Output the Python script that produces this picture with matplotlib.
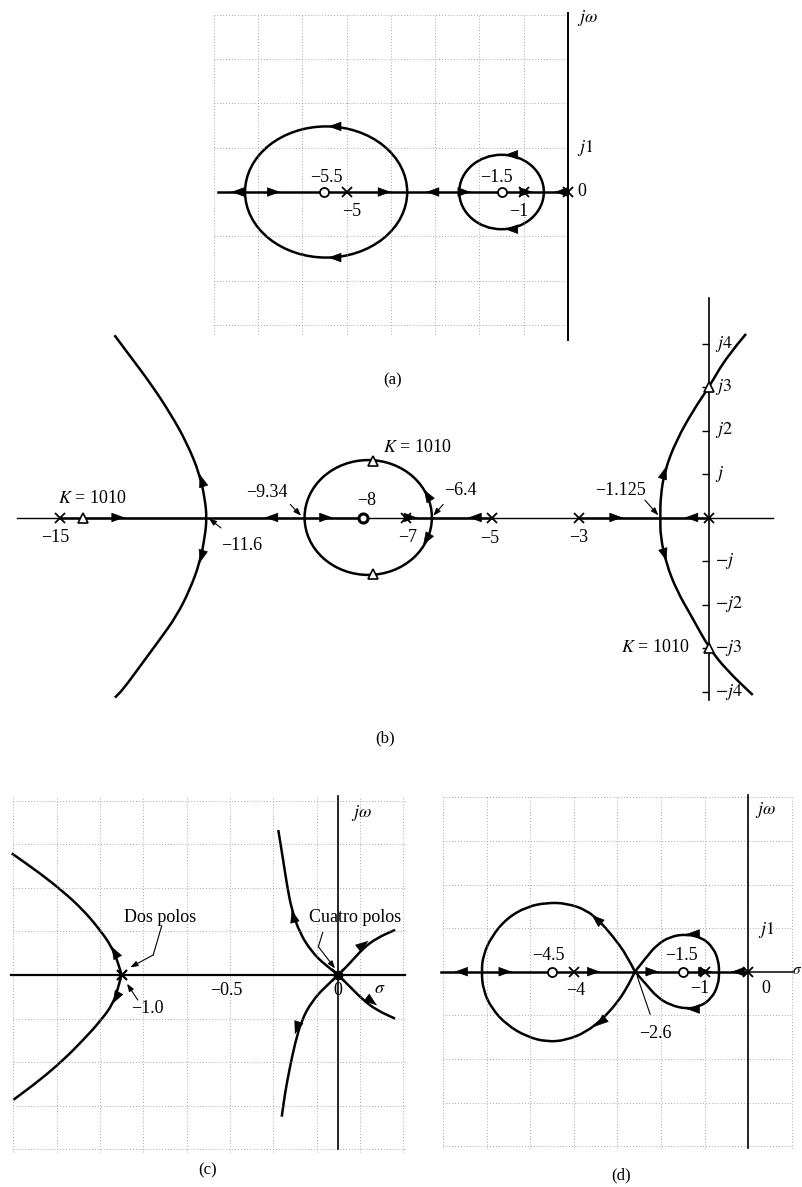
import numpy as np
import matplotlib
matplotlib.use("Agg")
import matplotlib.pyplot as plt
from matplotlib.patches import Ellipse, PathPatch
from matplotlib.path import Path

plt.rcParams['font.family'] = ['Liberation Serif', 'DejaVu Serif']
plt.rcParams['mathtext.fontset'] = 'stix'

M = '\u2212'

# ---- (a) ----
a_poles = [0, -1, -5]
a_zeros = [-1.5, -5.5]
a_circ_cx = [-5.46, -1.5]
a_circ_rx = [1.83, 0.955]
a_circ_ry = [1.48, 0.84]
a_arrow_x = [-7.6, -6.5, -4.0, -3.2, -2.2, -0.8, -0.3]
a_arrow_dir = [-1, 1, 1, -1, 1, 1, -1]
a_circ_arrow_x = [-5.41, -5.41, -1.42, -1.42]
a_circ_arrow_y = [1.48, -1.48, 0.84, -0.84]

# ---- (b) ----
b_poles = [0, -3, -5, -7, -15]
b_zero = [-8]
b_k_sigma = [-14.45, -7.75, -7.75, 0, 0]
b_k_omega = [0, 1.31, -1.31, 3, -3]
b_circ = (-7.87, 1.47, 1.32)
b_left_s = [-13.73, -13.37, -12.91, -12.45, -12.06, -11.76, -11.64, -11.6,
            -11.64, -11.76, -11.99, -12.30, -12.68, -13.14, -13.53, -13.72]
b_left_w = [4.19, 3.71, 3.10, 2.41, 1.72, 0.99, 0.41, 0,
            -0.43, -1.04, -1.66, -2.27, -2.80, -3.42, -3.95, -4.14]
b_right_s = [0.855, 0.41, 0, -0.36, -0.75, -1.02, -1.12, -1.125,
             -1.12, -0.99, -0.75, -0.40, 0, 0.41, 1.01]
b_right_w = [4.22, 3.70, 3.0, 2.47, 1.78, 1.09, 0.48, 0,
             -0.44, -1.05, -1.67, -2.28, -3.0, -3.51, -4.08]
b_omega_ticks = [4, 3, 2, 1, -1, -2, -3, -4]
b_omega_labels = ['$j4$', '$j3$', '$j2$', '$j$', '$-j$', '$-j2$', '$-j3$', '$-j4$']
b_arrow_x = [-13.5, -11.76, -11.76, -10.25, -8.7, -6.75, -5.55, -6.58, -6.6,
             -2.0, -0.55, -0.99, -0.98]
b_arrow_y = [0, 0.99, -1.04, 0, 0, 0, 0, 0.64, -0.63, 0, 0, 1.17, -1.0]
b_arrow_dx = [1, -0.42, -0.35, -1, 1, 1, -1, -0.7, -0.7, 1, -1, 0.39, 0.38]
b_arrow_dy = [0, 1.31, -1.23, 0, 0, 0, 0, 1.16, -1.16, 0, 0, 1.3, -1.23]

# ---- (c) ----
c_left_up_s = [-1.0, -1.015, -1.046, -1.10, -1.177, -1.269, -1.377, -1.507]
c_left_up_w = [0, 0.054, 0.13, 0.207, 0.298, 0.382, 0.467, 0.558]
c_left_dn_s = [-1.0, -1.015, -1.038, -1.10, -1.177, -1.269, -1.377, -1.50]
c_left_dn_w = [0, -0.054, -0.13, -0.214, -0.298, -0.39, -0.482, -0.573]
c_ul_s = [0, -0.061, -0.123, -0.177, -0.215, -0.238, -0.257, -0.277]
c_ul_w = [0, 0.046, 0.107, 0.191, 0.298, 0.42, 0.543, 0.665]
c_dl_s = [0, -0.061, -0.123, -0.169, -0.2, -0.226, -0.246, -0.261]
c_dl_w = [0, -0.054, -0.123, -0.207, -0.314, -0.436, -0.543, -0.65]
c_ur_s = [0, 0.054, 0.115, 0.177, 0.262]
c_ur_w = [0, 0.054, 0.123, 0.169, 0.207]
c_dr_s = [0, 0.054, 0.115, 0.177, 0.262]
c_dr_w = [0, -0.054, -0.115, -0.161, -0.2]
c_arrow_x = [-1.046, -1.04, -0.215, -0.2, 0.138, 0.177]
c_arrow_y = [0.13, -0.13, 0.298, -0.27, 0.156, -0.138]
c_arrow_dx = [-0.085, -0.085, -0.061, -0.04, 0.062, 0.062]
c_arrow_dy = [0.153, -0.153, 0.229, -0.12, 0.046, -0.046]

# ---- (d) ----
d_poles = [0, -1, -4]
d_zeros = [-1.5, -4.5]
d_big_s = [-2.6, -2.79, -3.10, -3.40, -3.71, -4.17, -4.62, -5.08, -5.54, -5.89,
           -6.08, -6.12, -6.08, -5.89, -5.54, -5.08, -4.62, -4.17, -3.71, -3.33,
           -3.02, -2.79, -2.6]
d_big_w = [0, 0.383, 0.803, 1.147, 1.415, 1.569, 1.583, 1.49, 1.225, 0.803,
           0.383, 0, -0.42, -0.84, -1.22, -1.49, -1.61, -1.57, -1.38, -1.07,
           -0.725, -0.38, 0]
d_small_s = [-2.6, -2.33, -2.10, -1.80, -1.41, -1.03, -0.80, -0.69, -0.665,
             -0.69, -0.84, -1.11, -1.41, -1.80, -2.10, -2.33, -2.6]
d_small_w = [0, 0.344, 0.612, 0.803, 0.865, 0.766, 0.537, 0.268, 0,
             -0.305, -0.61, -0.80, -0.856, -0.764, -0.573, -0.305, 0]
d_arrow_x = [-6.73, -5.43, -3.40, -2.06, -0.85, -0.38, -3.59, -3.50, -1.41, -1.41]
d_arrow_y = [0, 0, 0, 0, 0, 0, 1.30, -1.25, 0.865, -0.856]
d_arrow_dx = [-1, 1, 1, 1, 1, -1, -0.31, -0.38, -1, -1]
d_arrow_dy = [0, 0, 0, 0, 0, 0, 0.27, -0.31, 0, 0]

W, H = 803, 1187
fig = plt.figure(figsize=(W / 100, H / 100), dpi=100)

LW = 1.8
FS = 13
GRID = dict(color='0.55', lw=0.6, ls=(0, (1, 2.5)))


def panel(ox, oy, sx, sy, xlim, ylim):
    # ox, oy: pixel position of the s-plane origin, sx, sy: pixels per unit
    left = ox + xlim[0] * sx
    right = ox + xlim[1] * sx
    top = oy - ylim[1] * sy
    bottom = oy - ylim[0] * sy
    ax = fig.add_axes([left / W, 1 - bottom / H, (right - left) / W, (bottom - top) / H])
    ax.set_xlim(xlim)
    ax.set_ylim(ylim)
    ax.axis('off')
    return ax


def branch(ax, xs, ys):
    # smooth branch through the read points (quadratic segments)
    pts = np.column_stack([xs, ys])
    verts = [pts[0]]
    codes = [Path.MOVETO]
    for i in range(1, len(pts) - 1):
        verts += [pts[i], (pts[i] + pts[i + 1]) / 2]
        codes += [Path.CURVE3, Path.CURVE3]
    verts.append(pts[-1])
    codes.append(Path.LINETO)
    ax.add_patch(PathPatch(Path(verts, codes), fill=False, ec='k', lw=LW,
                           joinstyle='round'))


def arrows(ax, xs, ys, dxs, dys, size=14):
    for x, y, dx, dy in zip(xs, ys, dxs, dys):
        n = np.hypot(dx, dy)
        ux, uy = dx / n * 1e-3, dy / n * 1e-3
        ax.annotate('', xy=(x + ux, y + uy), xytext=(x - ux, y - uy),
                    arrowprops=dict(arrowstyle='-|>,head_length=0.6,head_width=0.22',
                                    color='k', lw=0.5, shrinkA=0, shrinkB=0,
                                    mutation_scale=size))


def leader(ax, start, end, head=True):
    style = '-|>,head_length=0.5,head_width=0.18' if head else '-'
    ax.annotate('', xy=end, xytext=start,
                arrowprops=dict(arrowstyle=style, color='k', lw=0.8,
                                shrinkA=0, shrinkB=0, mutation_scale=9))


def poles(ax, xs, ms=7.5):
    ax.plot(xs, np.zeros(len(xs)), 'x', color='k', ms=ms, mew=1.3, zorder=5)


def zeros(ax, xs, mew=1.3):
    ax.plot(xs, np.zeros(len(xs)), 'o', mfc='white', mec='k', ms=6.5, mew=mew, zorder=5)


def label(ax, x, y, s, **kw):
    kw.setdefault('ha', 'center')
    ax.text(x, y, s, fontsize=FS, va='center', **kw)


# ===== (a) =====
ax = panel(568, 192, 44.3, 44.3, (-8.6, 1.6), (-3.7, 4.3))
ax.vlines(range(-8, 0), -3.2, 4, **GRID)
ax.hlines([y for y in range(-3, 5) if y != 0], -8, 0, **GRID)
ax.plot([0, 0], [-3.35, 4.05], color='k', lw=1.4)
ax.plot([-7.9, 0], [0, 0], color='k', lw=LW)
for cx, rx, ry in zip(a_circ_cx, a_circ_rx, a_circ_ry):
    ax.add_patch(Ellipse((cx, 0), 2 * rx, 2 * ry, fill=False, ec='k', lw=LW))
poles(ax, a_poles)
zeros(ax, a_zeros)
arrows(ax, a_arrow_x, np.zeros(len(a_arrow_x)), a_arrow_dir, np.zeros(len(a_arrow_x)))
arrows(ax, a_circ_arrow_x, a_circ_arrow_y, [-1] * 4, [0] * 4)
label(ax, 0.2, 3.92, r'$j\omega$', ha='left')
label(ax, 0.2, 0.99, r'$j1$', ha='left')
label(ax, 0.22, 0, '0', ha='left')
label(ax, -5.45, 0.33, M + '5.5')
label(ax, -4.88, -0.43, M + '5')
label(ax, -1.61, 0.33, M + '1.5')
label(ax, -1.12, -0.45, M + '1')
fig.text(393 / W, 1 - 380 / H, '(a)', fontsize=12, ha='center', va='center')

# ===== (b) =====
ax = panel(709, 517.5, 43.3, 43.5, (-16.3, 2.1), (-4.7, 5.2))
ax.plot([-15.98, 1.48], [0, 0], color='k', lw=1.0)
for s0, s1 in [(-15, -8), (-7, -5), (-3, 0)]:
    ax.plot([s0, s1], [0, 0], color='k', lw=LW)
ax.plot([0, 0], [-4.2, 5.05], color='k', lw=1.2)
ax.hlines(b_omega_ticks, -0.16, 0, color='k', lw=1.0)
branch(ax, b_left_s, b_left_w)
branch(ax, b_right_s, b_right_w)
ax.add_patch(Ellipse((b_circ[0], 0), 2 * b_circ[1], 2 * b_circ[2], fill=False, ec='k', lw=LW))
poles(ax, b_poles, ms=7)
zeros(ax, b_zero, mew=2.2)
ax.plot(b_k_sigma, b_k_omega, '^', mfc='white', mec='k', ms=7.5, mew=1.2, zorder=6)
arrows(ax, b_arrow_x, b_arrow_y, b_arrow_dx, b_arrow_dy)
for w, lab in zip(b_omega_ticks, b_omega_labels):
    label(ax, 0.13, w, lab, ha='left')
label(ax, -14.24, 0.44, '$K$ = 1010')
label(ax, -15.1, -0.47, M + '15')
label(ax, -10.8, -0.65, M + '11.6')
leader(ax, (-11.27, -0.24), (-11.55, -0.02))
label(ax, -10.2, 0.57, M + '9.34')
leader(ax, (-9.67, 0.3), (-9.42, 0.04))
label(ax, -7.9, 0.4, M + '8')
label(ax, -6.75, 1.6, '$K$ = 1010')
label(ax, -5.75, 0.62, M + '6.4')
leader(ax, (-6.14, 0.3), (-6.37, 0.04))
label(ax, -6.96, -0.46, M + '7')
label(ax, -5.06, -0.49, M + '5')
label(ax, -3.0, -0.46, M + '3')
label(ax, -2.05, 0.62, M + '1.125')
leader(ax, (-1.48, 0.4), (-1.17, 0.05))
label(ax, -1.25, -3.0, '$K$ = 1010')
fig.text(385 / W, 1 - 738 / H, '(b)', fontsize=12, ha='center', va='center')

# ===== (c) =====
ax = panel(338.3, 975, 216.7, 218, (-1.56, 0.33), (-0.92, 0.87))
ax.vlines(np.arange(-1.5, 0.31, 0.2), -0.81, 0.82, **GRID)
ax.hlines([-0.8, -0.6, -0.4, -0.2, 0.2, 0.4, 0.6, 0.8], -1.5, 0.31, **GRID)
ax.plot([-1.51, 0.31], [0, 0], color='k', lw=1.6)
ax.plot([0, 0], [-0.8, 0.82], color='k', lw=1.2)
for s, w in [(c_left_up_s, c_left_up_w), (c_left_dn_s, c_left_dn_w),
             (c_ul_s, c_ul_w), (c_dl_s, c_dl_w), (c_ur_s, c_ur_w), (c_dr_s, c_dr_w)]:
    branch(ax, s, w)
ax.plot([-1.0], [0], 'x', color='k', ms=7, mew=1.6, zorder=5)
ax.plot([0], [0], 'o', color='k', ms=6, zorder=5)
ax.plot([0], [0], 'x', color='k', ms=8, mew=1.6, zorder=5)
arrows(ax, c_arrow_x, c_arrow_y, c_arrow_dx, c_arrow_dy)
label(ax, 0.06, 0.745, r'$j\omega$', ha='left')
label(ax, -0.823, 0.262, 'Dos polos')
ax.plot([-0.815, -0.854], [0.225, 0.092], color='k', lw=0.8)
leader(ax, (-0.854, 0.092), (-0.96, 0.035))
label(ax, -0.88, -0.155, M + '1.0')
leader(ax, (-0.925, -0.115), (-0.975, -0.04))
label(ax, -0.515, -0.07, M + '0.5')
label(ax, 0.0, -0.07, '0')
label(ax, 0.19, -0.06, r'$\sigma$')
label(ax, 0.077, 0.262, 'Cuatro polos')
ax.plot([-0.072, -0.092], [0.195, 0.13], color='k', lw=0.8)
leader(ax, (-0.092, 0.13), (-0.015, 0.03))
fig.text(208 / W, 1 - 1170 / H, '(c)', fontsize=12, ha='center', va='center')

# ===== (d) =====
ax = panel(748.3, 971.7, 43.6, 43.6, (-7.3, 1.25), (-4.7, 4.3))
ax.vlines(range(-7, 2), -4.05, 4.05, **GRID)
ax.hlines([y for y in range(-4, 5) if y != 0], -7, 1, **GRID)
ax.plot([-7.05, 0], [0, 0], color='k', lw=LW)
ax.plot([0, 1.03], [0, 0], color='k', lw=1.1)
ax.plot([0, 0], [-4.05, 4.05], color='k', lw=1.2)
branch(ax, d_big_s, d_big_w)
branch(ax, d_small_s, d_small_w)
poles(ax, d_poles)
zeros(ax, d_zeros)
arrows(ax, d_arrow_x, d_arrow_y, d_arrow_dx, d_arrow_dy)
label(ax, 0.4, 3.71, r'$j\omega$')
label(ax, 0.4, 0.96, r'$j1$')
label(ax, 0.4, -0.38, '0')
label(ax, -4.59, 0.37, M + '4.5')
label(ax, -3.97, -0.44, M + '4')
label(ax, -1.53, 0.37, M + '1.5')
label(ax, -1.11, -0.38, M + '1')
label(ax, -2.14, -1.42, M + '2.6')
leader(ax, (-2.25, -0.98), (-2.55, -0.1), head=False)
ax.text(1.245, 0.02, r'$\sigma$', fontsize=FS - 2, ha='right', va='center', clip_on=False)
fig.text(621 / W, 1 - 1175 / H, '(d)', fontsize=12, ha='center', va='center')

fig.savefig('out.png', dpi=100, facecolor='white')
